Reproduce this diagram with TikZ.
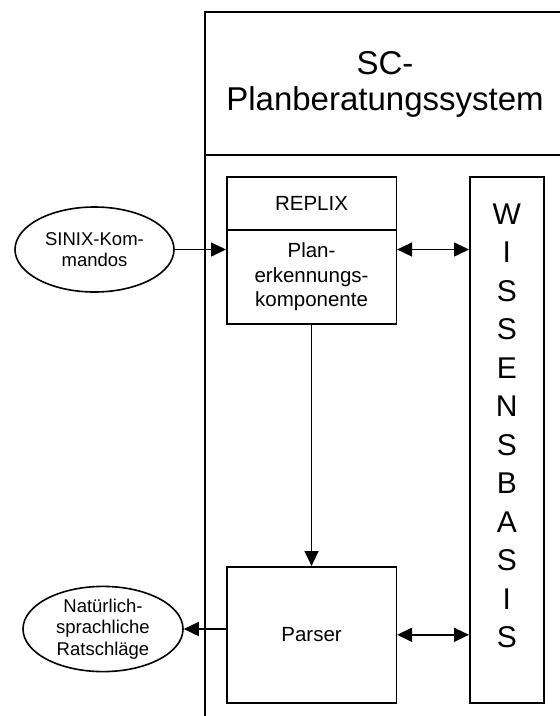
\documentclass[tikz,border=0pt]{standalone}
\usepackage{fontspec}
\setmainfont{Liberation Sans}
\usetikzlibrary{arrows.meta,shapes.geometric}

\begin{document}
\begin{tikzpicture}[
  x=1pt, y=-1pt,
  line width=1.6pt,
  box/.style={draw, rectangle, inner sep=0pt, anchor=north west, align=center,
    font=\fontsize{20.5}{24.5}\selectfont},
  oval/.style={draw, ellipse, inner sep=0pt, align=center,
    font=\fontsize{18.5}{21.5}\selectfont},
  arr/.style={-{Triangle[length=15pt,width=14pt]}},
  darr/.style={{Triangle[length=15pt,width=14pt]}-{Triangle[length=15pt,width=14pt]}}
]
\useasboundingbox (0,0) rectangle (560,716);
\clip (0,0) rectangle (560,716);

% system frame
\draw (205,12) rectangle (566,730);
\draw (205,155) -- (566,155);
\node [align=center, font=\fontsize{33}{36}\selectfont] (title) at (385,84) {SC-\\Planberatungssystem};

\node [box, minimum width=169.5pt, minimum height=53pt] (replix) at (226,176) {REPLIX};
\node [box, minimum width=169.5pt, minimum height=94pt] (planer) at (226,229) {Plan-\\erkennungs-\\komponente};
\node [box, minimum width=169.5pt, minimum height=136pt] (parser) at (226,566) {Parser};
\node [box, minimum width=74pt, minimum height=526pt] (wissen) at (469,176) {};
\node [anchor=north, inner sep=0pt, align=center, font=\fontsize{30}{38.5}\selectfont,
  yshift=-27pt] (wbasis) at (wissen.north) {W\\I\\S\\S\\E\\N\\S\\B\\A\\S\\I\\S};

\node [oval, minimum width=159pt, minimum height=85pt] (sinix) at (94.5,249.5) {SINIX-Kom-\\mandos};
\node [oval, minimum width=160pt, minimum height=84pt] (rat) at (103,629) {Natürlich-\\sprachliche\\Ratschläge};

\draw [arr] (sinix.east) -- (sinix.east -| planer.west);
\draw [darr] (planer.east |- sinix.east) -- (wissen.west |- sinix.east);
\draw [arr] (planer) -- (parser);
\draw [darr] (parser.east) -- (parser.east -| wissen.west);
\draw [arr] (parser.west |- rat.east) -- (rat.east);
\end{tikzpicture}
\end{document}
